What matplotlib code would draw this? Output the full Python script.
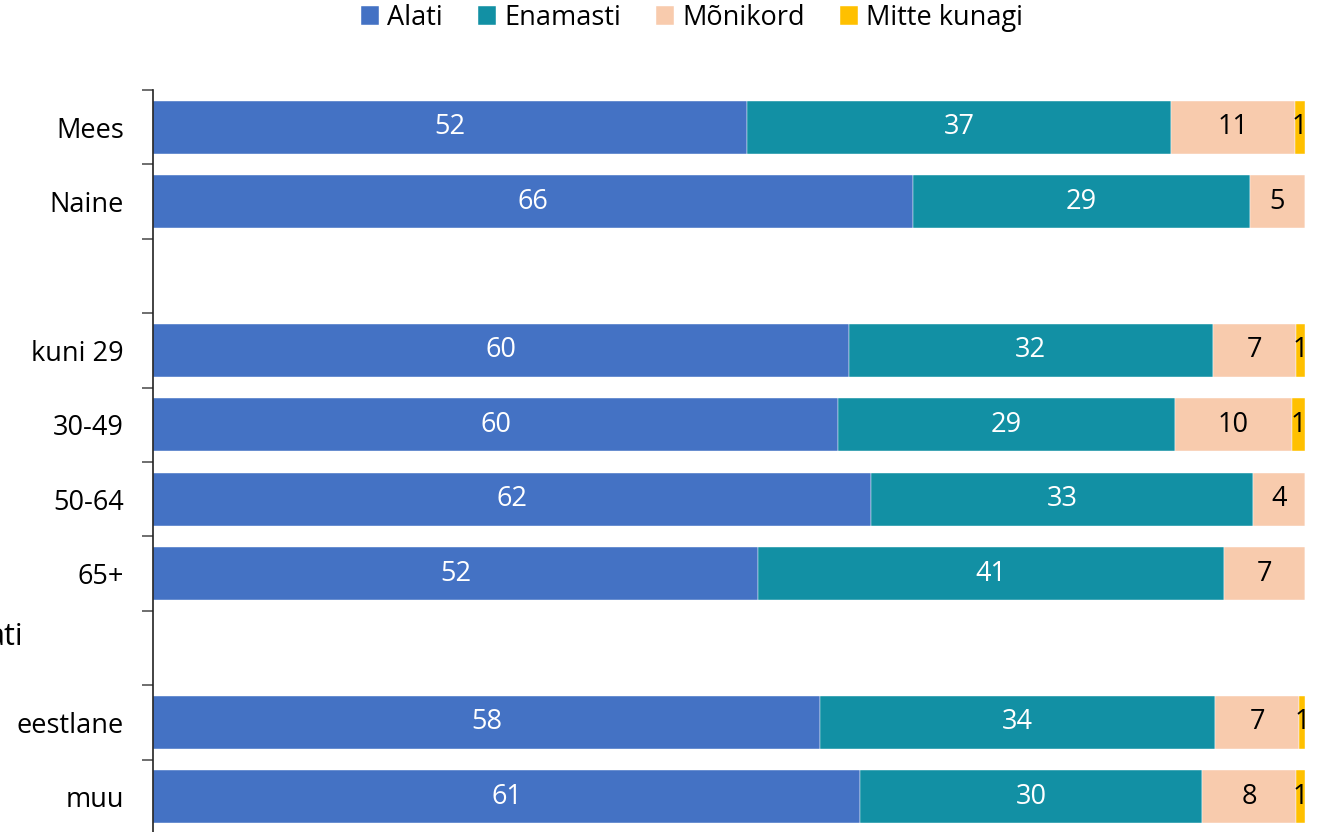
import numpy as np
import matplotlib.pyplot as plt

# rows top to bottom, empty strings are the gaps between groups
categories = ['Mees', 'Naine', '', 'kuni 29', '30-49', '50-64', '65+', '', 'eestlane', 'muu']
series = ['Alati', 'Enamasti', 'Mõnikord', 'Mitte kunagi']
alati = [51.6, 66.0, 0, 60.4, 59.5, 62.3, 52.5, 0, 57.9, 61.4]
enamasti = [36.8, 29.2, 0, 31.6, 29.2, 33.2, 40.5, 0, 34.3, 29.7]
monikord = [10.7, 4.8, 0, 7.2, 10.2, 4.5, 7.0, 0, 7.3, 8.1]
mitte = [0.9, 0.0, 0, 0.8, 1.1, 0.0, 0.0, 0, 0.5, 0.8]
labels = [
    ['52', '66', '', '60', '60', '62', '52', '', '58', '61'],
    ['37', '29', '', '32', '29', '33', '41', '', '34', '30'],
    ['11', '5', '', '7', '10', '4', '7', '', '7', '8'],
    ['1', '', '', '1', '1', '', '', '', '1', '1'],
]
group_label = 'ati'

colors = ['#4472C4', '#1290A4', '#F8CBAD', '#FFC000']
text_colors = ['white', 'white', 'black', 'black']
fs = 19.5

plt.rcParams['font.family'] = ['Open Sans', 'DejaVu Sans']

fig = plt.figure(figsize=(13.32, 8.32), dpi=100)
ax = fig.add_axes([153 / 1332, -2 / 832, 1152 / 1332, 744 / 832])

data = np.array([alati, enamasti, monikord, mitte])
totals = data.sum(axis=0)
totals[totals == 0] = 1
shares = data / totals * 100

y = np.arange(len(categories))
left = np.zeros(len(categories))
for i, name in enumerate(series):
    ax.barh(y, shares[i], left=left, height=0.71, color=colors[i],
            edgecolor='white', linewidth=0.3, label=name)
    for j in range(len(categories)):
        if labels[i][j]:
            ax.text(left[j] + shares[i][j] / 2, y[j], labels[i][j],
                    ha='center', va='center', fontsize=fs, color=text_colors[i])
    left += shares[i]

ax.set_xlim(0, 100)
ax.set_ylim(len(categories) - 0.5, -0.5)
ax.set_yticks(y)
ax.set_yticklabels(categories, fontsize=fs)
ax.set_yticks(np.arange(len(categories) + 1) - 0.5, minor=True)
ax.tick_params(axis='y', which='major', length=0, pad=21)
ax.tick_params(axis='y', which='minor', length=8, width=1.2, color='#555555')
ax.set_xticks([])
for s in ['top', 'right', 'bottom']:
    ax.spines[s].set_visible(False)
ax.spines['left'].set_linewidth(1.2)
ax.spines['left'].set_color('#222222')

fig.text(23 / 1332, 1 - 637 / 832, group_label, ha='right', va='center', fontsize=22)

fig.legend(loc='center', bbox_to_anchor=(692 / 1332, 1 - 18 / 832), ncol=4,
           frameon=False, fontsize=fs, handlelength=0.67, handleheight=0.67,
           handletextpad=0.3, columnspacing=1.3)

fig.savefig('out.png', dpi=100)
